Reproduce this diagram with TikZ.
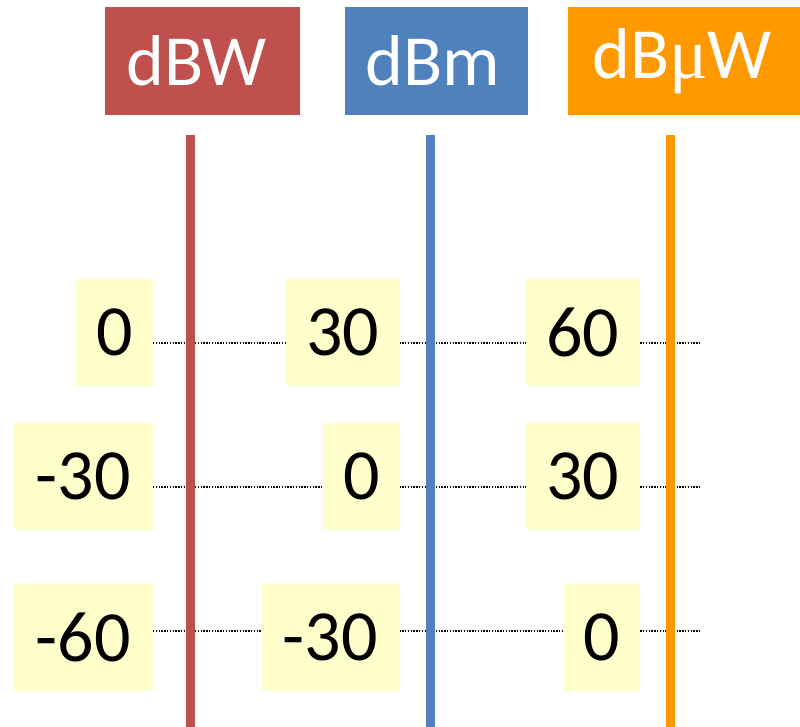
\documentclass[tikz,border=0pt]{standalone}
\usepackage{fontspec}
\setmainfont{Carlito}
\newfontfamily\mufont{Liberation Serif}
\usetikzlibrary{backgrounds}
\definecolor{hred}{HTML}{C0504D}
\definecolor{hblue}{HTML}{4F81BD}
\definecolor{horange}{HTML}{FF9900}
\definecolor{numyellow}{HTML}{FFFFCC}
\tikzset{
  head/.style={fill=#1, text=white, inner sep=0pt, minimum height=108pt, anchor=north west,
    font=\fontsize{72}{80}\selectfont},
  numbox/.style={fill=numyellow, inner sep=0pt, minimum height=107pt, minimum width=#1, anchor=east,
    font=\fontsize{72}{80}\selectfont},
  scale/.style={line width=9pt, draw=#1},
  guide/.style={black, line width=1.4pt, dash pattern=on 1.4pt off 1.4pt}
}
\begin{document}
\begin{tikzpicture}[x=1pt,y=-1pt]
\useasboundingbox (0,0) rectangle (800,727);
% headers
\node[head=hred, minimum width=195pt] (hW) at (105,7) {\hspace*{-12pt}dBW};
\node[head=hblue, minimum width=183pt] (hm) at (345,7) {\hspace*{-8pt}dBm};
\node[head=horange, minimum width=232pt] (hu) at (568,7) {\hspace*{-4pt}dB{\mufont μ}W};
% vertical scales
\coordinate (tW) at (190,135); \coordinate (bW) at (190,727);
\coordinate (tm) at (430.5,135); \coordinate (bm) at (430.5,727);
\coordinate (tu) at (670.5,135); \coordinate (bu) at (670.5,727);
\draw[scale=hred] (tW) -- (bW);
\draw[scale=hblue] (tm) -- (bm);
\draw[scale=horange] (tu) -- (bu);
% row 1
\node[numbox=77pt] (a1) at (153,332.5) {0};
\node[numbox=114pt] (b1) at (400,332.5) {30};
\node[numbox=114pt] (c1) at (640,332.5) {60};
% row 2
\node[numbox=139pt] (a2) at (153,476.5) {-30};
\node[numbox=77pt] (b2) at (400,476.5) {0};
\node[numbox=114pt] (c2) at (640,476.5) {30};
% row 3
\node[numbox=139pt] (a3) at (153,637) {-60};
\node[numbox=139pt] (b3) at (400,637) {-30};
\node[numbox=76pt] (c3) at (640,637) {0};
% guide ends
\coordinate (e1) at (700,343);
\coordinate (e2) at (700,487);
\coordinate (e3) at (700,631);
\begin{pgfonlayer}{background}
\draw[guide] (a1.east |- e1) -- (e1);
\draw[guide] (a2.east |- e2) -- (e2);
\draw[guide] (a3.east |- e3) -- (e3);
\end{pgfonlayer}
\end{tikzpicture}
\end{document}
